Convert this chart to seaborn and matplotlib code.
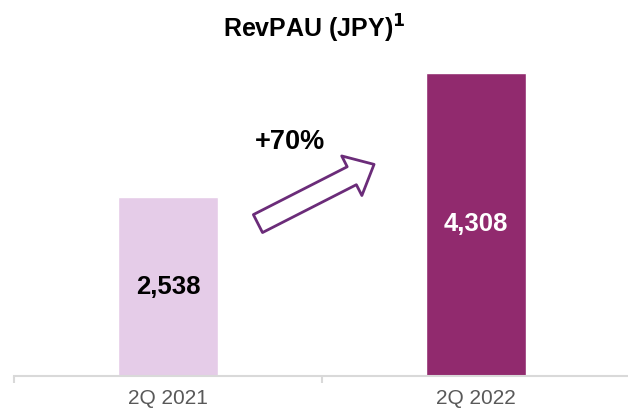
import matplotlib
matplotlib.use("Agg")
import matplotlib.pyplot as plt
import seaborn as sns
import pandas as pd

# chart data
quarters = ["2Q 2021", "2Q 2022"]
revpau = [2538, 4308]
bar_colors = ["#E5CCE8", "#912A6E"]
label_colors = ["black", "white"]

sns.set_theme(style="white")
plt.rcParams["font.family"] = ["Liberation Sans", "DejaVu Sans"]
plt.rcParams["text.color"] = "black"

df = pd.DataFrame({"quarter": quarters, "revpau": revpau})

fig = plt.figure(figsize=(6.28, 4.08), dpi=100)
ax = fig.add_axes([14 / 628, 32 / 408, 616 / 628, 352 / 408])

sns.barplot(data=df, x="quarter", y="revpau", hue="quarter",
            palette=bar_colors, width=0.325, legend=False, ax=ax,
            saturation=1)

ax.set_xlim(-0.5, 1.5)
ax.set_ylim(0, 5000)
ax.set_xlabel("")
ax.set_ylabel("")
ax.set_yticks([])

# x axis: light grey baseline with ticks on category boundaries
for side in ["top", "right", "left"]:
    ax.spines[side].set_visible(False)
ax.spines["bottom"].set_color("#D9D9D9")
ax.spines["bottom"].set_linewidth(1.5)
ax.set_xticks([0, 1])
ax.set_xticklabels(quarters, color="#595959", fontsize=15)
ax.tick_params(axis="x", length=0, pad=9)
ax.set_xticks([-0.5, 0.5, 1.5], minor=True)
ax.tick_params(axis="x", which="minor", length=5, width=1.5,
               color="#D9D9D9", bottom=True)

# value labels inside bars
for i, (v, c) in enumerate(zip(revpau, label_colors)):
    ax.text(i, v / 2, f"{v:,}", ha="center", va="center",
            fontsize=18.5, fontweight="bold", color=c)

# growth arrow
growth = revpau[1] / revpau[0] - 1
ax.annotate("", xy=(0.669, 3006), xytext=(0.292, 2165),
            arrowprops=dict(arrowstyle="simple,head_length=1.8,head_width=3.2,tail_width=1.45",
                            mutation_scale=10, facecolor="white",
                            edgecolor="#6B2C79", linewidth=2,
                            shrinkA=0, shrinkB=0))
ax.text(0.396, 3320, f"+{growth:.0%}", ha="center", va="center",
        fontsize=19.5, fontweight="bold", color="black")

fig.text(0.5, 0.928, r"RevPAU (JPY)$^{\mathbf{1}}$", ha="center", va="center",
         fontsize=18, fontweight="bold", color="black")

fig.savefig("out.png", dpi=100)
